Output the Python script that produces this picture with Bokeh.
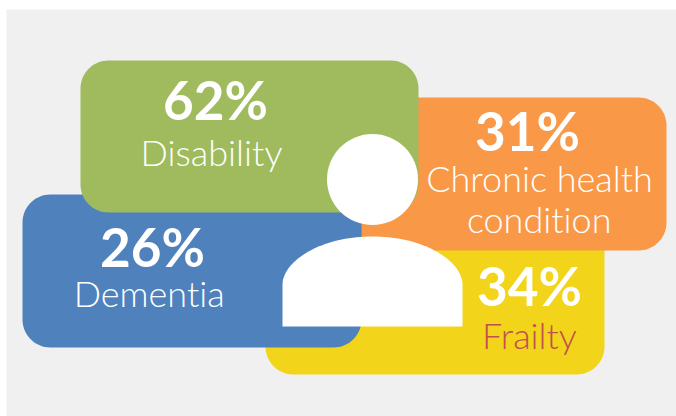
import numpy as np
from bokeh.core.properties import value
from bokeh.embed import file_html
from bokeh.models import Range1d
from bokeh.plotting import figure
from bokeh.resources import INLINE

# Share of people with each condition, drawn back to front
conditions = ["Frailty", "Chronic health\ncondition", "Dementia", "Disability"]
percents = [34, 31, 26, 62]
box_colors = ["#F2D41B", "#F99847", "#4F81BD", "#9FBB5D"]
name_colors = ["#C0504D", "#FFFFFF", "#FFFFFF", "#FFFFFF"]

# Panel bounds: left, right, top, bottom in page pixels
box_left = [265, 328, 22, 80]
box_right = [604, 666, 361, 418]
box_top = [220, 97, 194, 60]
box_bottom = [374, 250, 347, 212]
CORNER = 28

# Text anchors: centre x and baseline y of the number and of each name line
pct_x = [529, 527, 152, 215]
pct_y = [306, 151, 267, 120]
name_x = [529, 539, 149, 211]
name_y = [349, 192, 307, 166]
LINE_STEP = 41

LIGHT_FONT = "Lato Light"
BOLD_FONT = "Lato"
PCT_SIZE = 53
NAME_SIZE = 36
# The text layer sits this fraction of the font size below the anchor
BASELINE_SHIFT = 0.4


def rounded_box(left, right, top, bottom, r):
    t = np.linspace(0, np.pi / 2, 16)
    xs = np.concatenate([
        left + r - r * np.cos(t), right - r + r * np.sin(t),
        right - r + r * np.cos(t), left + r - r * np.sin(t),
    ])
    ys = np.concatenate([
        top + r - r * np.sin(t), top + r - r * np.cos(t),
        bottom - r + r * np.sin(t), bottom - r + r * np.cos(t),
    ])
    return xs, ys


def shoulder(p0, p1, p2, p3, n=40):
    t = np.linspace(0, 1, n)[:, None]
    pts = ((1 - t) ** 3 * p0 + 3 * (1 - t) ** 2 * t * p1
           + 3 * (1 - t) * t ** 2 * p2 + t ** 3 * p3)
    return pts[:, 0], pts[:, 1]


p = figure(
    width=676, height=416, output_backend="svg", toolbar_location=None,
    x_range=Range1d(0, 676), y_range=Range1d(416, 0),
    min_border=0, outline_line_color=None, background_fill_color="#FFFFFF",
)
p.axis.visible = False
p.grid.visible = False

# Grey page panel
p.quad(left=[6], right=[676], top=[9], bottom=[416],
       fill_color="#F0F0F0", line_color=None)

for i in range(len(conditions)):
    xs, ys = rounded_box(box_left[i], box_right[i], box_top[i], box_bottom[i], CORNER)
    p.patch(xs, ys, fill_color=box_colors[i], line_color=None)

# Person pictogram: head and shoulders
p.scatter(x=[372], y=[179], size=91, marker="circle",
          fill_color="#FFFFFF", line_color=None)
lx, ly = shoulder(np.array([282.0, 284]), np.array([282.0, 262]),
                  np.array([318.0, 236]), np.array([372.0, 236]))
rx, ry = 744 - lx[::-1], ly[::-1]
body_x = np.concatenate([[282], lx, rx, [462]])
body_y = np.concatenate([[326], ly, ry, [326]])
p.patch(body_x, body_y, fill_color="#FFFFFF", line_color=None)

for i in range(len(conditions)):
    p.text(x=[pct_x[i]], y=[pct_y[i]], text=[f"{percents[i]}%"],
           text_font=value(BOLD_FONT), text_font_style="bold",
           text_font_size=f"{PCT_SIZE}px", text_color="#FFFFFF",
           text_align="center", text_baseline="alphabetic",
           y_offset=-BASELINE_SHIFT * PCT_SIZE)
    for j, line in enumerate(conditions[i].split("\n")):
        p.text(x=[name_x[i]], y=[name_y[i] + j * LINE_STEP], text=[line],
               text_font=value(LIGHT_FONT), text_font_size=f"{NAME_SIZE}px",
               text_color=name_colors[i],
               text_align="center", text_baseline="alphabetic",
               y_offset=-BASELINE_SHIFT * NAME_SIZE)

# Plain letterforms: no joined "ti" in the light face
page = file_html(p, INLINE).replace(
    "<head>", "<head><style>html,body{font-variant-ligatures:none}</style>", 1)
open("out.html", "w").write(page)
